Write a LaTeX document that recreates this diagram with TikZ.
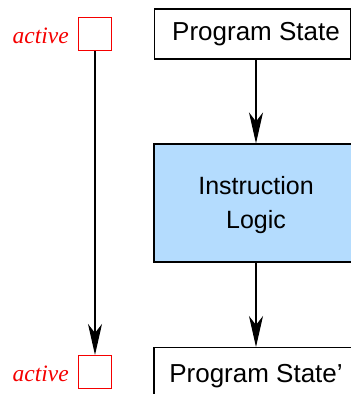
\documentclass[tikz,border=0pt]{standalone}
\usepackage{fontspec}
\setmainfont{Liberation Serif}
\setsansfont{Liberation Sans}
\usetikzlibrary{arrows.meta,calc}
\definecolor{logicblue}{RGB}{180,220,254}
\definecolor{flagred}{RGB}{245,0,0}
\begin{document}
\begin{tikzpicture}[x=1pt,y=-1pt,
  box/.style={draw=black,line width=1.1pt,inner sep=0pt,font=\sffamily\fontsize{25}{33}\selectfont,align=center},
  statefont/.style={font=\sffamily\fontsize{26}{33}\selectfont},
  flag/.style={draw=flagred,line width=1.1pt,minimum size=33pt,inner sep=0pt},
  flaglabel/.style={text=flagred,font=\itshape\fontsize{23.5}{24}\selectfont,anchor=base east,inner sep=0pt},
  arr/.style={line width=1.1pt,-{Stealth[length=31pt,width=14pt,inset=9pt]}}]
\useasboundingbox (0,0) rectangle (351,394);

% state before the step
\node[box,statefont,minimum width=196pt,minimum height=50pt] (ps) at (252.5,34) {\hspace*{7pt}Program State};
% logic block
\node[box,fill=logicblue,minimum width=204pt,minimum height=118pt] (il) at (256,203) {};
\node[inner sep=0pt,align=center,anchor=base,font=\sffamily\fontsize{25}{34}\selectfont] (ilt) at (256,228) {Instruction\\Logic};
% state after the step (runs past the page edge)
\node[box,minimum width=204pt,minimum height=50pt,anchor=north] (ps2) at (256,347) {};
\node[statefont,inner sep=0pt,anchor=base] (ps2t) at (256,382) {Program State'};

% activity flags
\node[flag] (fa) at (95,34) {};
\node[flag] (fb) at (95,372) {};
\node[flaglabel] (la) at (69,43) {active};
\node[flaglabel] (lb) at (69,381) {active};

% connectors
\draw[arr] (il.north |- ps.south) -- (il.north);
\draw[arr] (il.south) -- (ps2.north);
\draw[arr] (fa.south) -- (fb.north);
\end{tikzpicture}
\end{document}
